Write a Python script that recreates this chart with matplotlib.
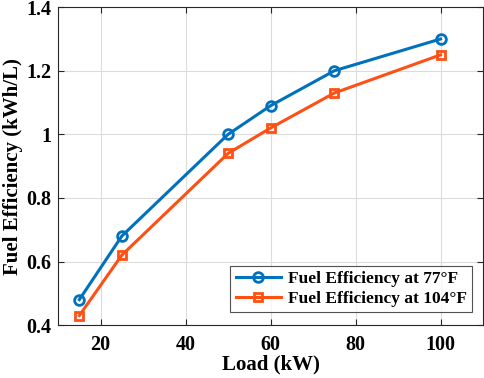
import matplotlib
matplotlib.use("Agg")
import matplotlib.pyplot as plt

# Data
load_kw = [15, 25, 50, 60, 75, 100]
eff_77f = [0.48, 0.68, 1.00, 1.09, 1.20, 1.30]
eff_104f = [0.43, 0.62, 0.94, 1.02, 1.13, 1.25]
x_ticks = [20, 40, 60, 80, 100]
y_ticks = [0.4, 0.6, 0.8, 1.0, 1.2, 1.4]
y_tick_labels = ["0.4", "0.6", "0.8", "1", "1.2", "1.4"]

plt.rcParams["font.family"] = ["Liberation Serif", "DejaVu Serif"]
plt.rcParams["font.weight"] = "bold"

fig = plt.figure(figsize=(4.84, 3.78), dpi=100)
ax = fig.add_axes([0.120, 0.140, 0.878, 0.841])

ax.plot(load_kw, eff_77f, color="#0072BD", lw=2.2, marker="o", ms=7,
        mfc="none", mew=2.0, label="Fuel Efficiency at 77°F")
ax.plot(load_kw, eff_104f, color="#FF5014", lw=2.2, marker="s", ms=6,
        mfc="none", mew=2.0, label="Fuel Efficiency at 104°F")

ax.set_xlim(10, 110)
ax.set_ylim(0.4, 1.4)
ax.set_xticks(x_ticks)
ax.set_yticks(y_ticks)
ax.set_yticklabels(y_tick_labels)
ax.tick_params(labelsize=14.5, direction="in", length=4, color="#262626",
               top=True, right=True)
ax.tick_params(axis="x", pad=7)
ax.tick_params(axis="y", pad=5)
for lab in ax.get_xticklabels() + ax.get_yticklabels():
    lab.set_fontweight("bold")
ax.grid(True, color="#dcdcdc", lw=0.8)
ax.set_axisbelow(True)
for s in ax.spines.values():
    s.set_color("#262626")
    s.set_linewidth(0.8)

ax.set_xlabel("Load (kW)", fontsize=15, fontweight="bold", labelpad=0)
ax.set_ylabel("Fuel Efficiency (kWh/L)", fontsize=15, fontweight="bold", labelpad=2)

leg = ax.legend(loc="lower right", bbox_to_anchor=(0.974, 0.041),
                fontsize=12.5, frameon=True, fancybox=False,
                edgecolor="#262626", borderpad=0.3, handlelength=2.6,
                labelspacing=0.2, borderaxespad=0, handletextpad=0.4)
leg.get_frame().set_linewidth(0.8)
for t in leg.get_texts():
    t.set_fontweight("bold")

fig.savefig("out.png", dpi=100)
